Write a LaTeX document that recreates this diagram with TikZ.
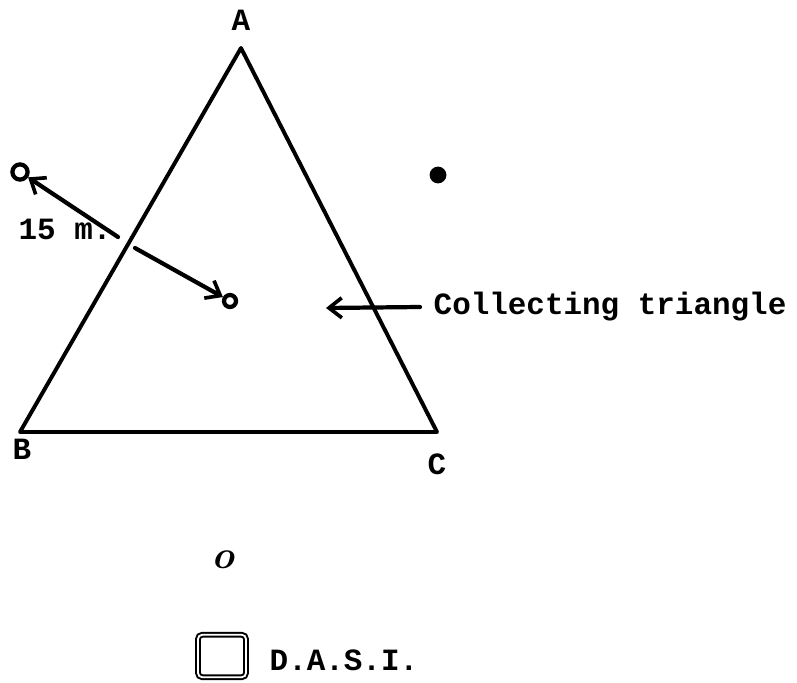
\documentclass[tikz,border=0pt]{standalone}
\usepackage{fontspec}
\setmonofont{Liberation Mono}
\usetikzlibrary{arrows.meta,positioning}

\begin{document}
\begin{tikzpicture}[
  x=0.025cm, y=-0.025cm,
  side/.style={line width=2.8pt, line join=round},
  arr/.style={-{Straight Barb[length=3.2mm, width=5mm, line width=2.6pt]}, line width=3pt, line cap=round},
  lbl/.style={font=\fontsize{22}{26}\selectfont\ttfamily\bfseries, inner sep=1pt},
  ringdot/.style={circle, draw, line width=3pt, minimum size=0.3cm, inner sep=0pt},
  fulldot/.style={circle, fill, minimum size=0.42cm, inner sep=0pt},
]
\useasboundingbox (0,0) rectangle (797,683);
% collecting triangle
\coordinate (A) at (241,48);
\coordinate (B) at (20,432);
\coordinate (C) at (437,432);
\draw[side] (A) -- (B) -- (C) -- cycle;
\node[lbl] (labA) at (241,20) {A};
\node[lbl] (labB) at (22,449) {B};
\node[lbl] (labC) at (437,464) {C};
% sampling points
\node[ringdot, minimum size=0.38cm] (outside) at (20,172) {};
\node[ringdot] (inside) at (230,301) {};
\node[fulldot] (corner) at (438,175) {};
\coordinate (out1) at (118,237);
\coordinate (out2) at (135,248);
\draw[arr] (out1) -- (outside);
\draw[arr] (out2) -- (inside);
\node[lbl] (dist) at (65,229) {15 m.};
% label for the triangle
\node[lbl, anchor=west] (ctext) at (432,307) {Collecting triangle};
\coordinate (ctip) at (326,308);
\draw[arr] ([xshift=-0.3cm]ctext.west) -- (ctip);
% DASI
\node[inner sep=0pt, font=\fontsize{28}{28}\selectfont\bfseries\itshape] (small) at (223,560) {o};
\node[draw, double, double distance=1.3pt, line width=1.4pt, rounded corners=3pt,
      minimum width=1.2cm, minimum height=1.06cm] (dasi) at (222,656) {};
\node[lbl, anchor=west] (dasitext) at (268,660) {D.A.S.I.};
\end{tikzpicture}
\end{document}
